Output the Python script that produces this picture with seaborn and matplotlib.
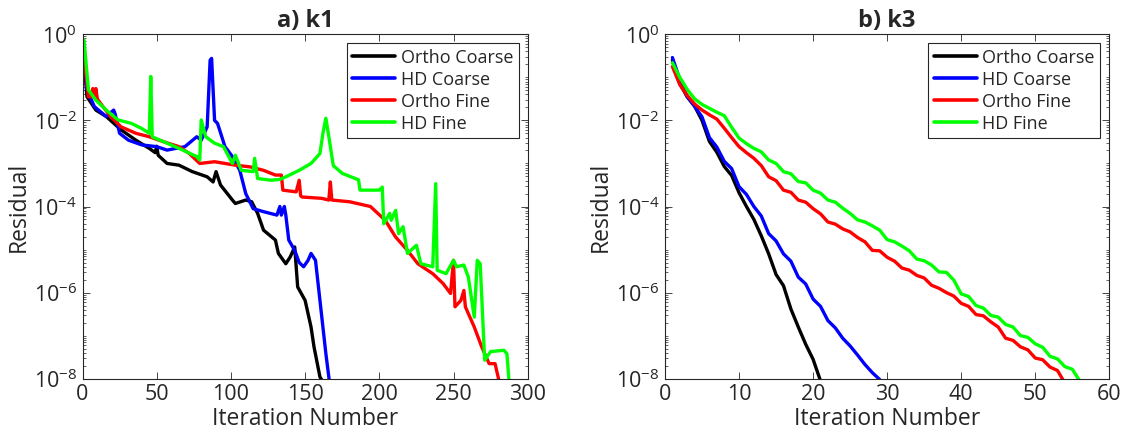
import numpy as np
import pandas as pd
import matplotlib
matplotlib.use("Agg")
import matplotlib.pyplot as plt
import seaborn as sns
from matplotlib.ticker import LogLocator, FixedLocator, LogFormatterSciNotation, NullFormatter, MultipleLocator

# ---------------- data (residuals stored as log10 values) ----------------
methods = ["Ortho Coarse", "HD Coarse", "Ortho Fine", "HD Fine"]
colors = ["#000000", "#0000ff", "#ff0000", "#00ff00"]

# panel a) k1
k1_oc_x = [0, 3, 9, 16, 26, 36, 45, 49, 50, 51, 57, 65, 74, 84, 88, 90, 93, 101, 103, 110, 114, 118,
           122, 130, 132, 137, 140, 143, 145, 150, 154, 156, 160, 162.5]
k1_oc_log = [-0.13, -1.45, -1.76, -1.91, -2.22, -2.46, -2.65, -2.75, -2.6, -2.81, -3.0, -3.04, -3.19,
             -3.31, -3.43, -3.19, -3.5, -3.85, -3.93, -3.85, -3.89, -4.16, -4.55, -4.78, -5.09, -5.33,
             -5.17, -4.94, -5.87, -6.18, -6.8, -7.26, -7.96, -8.1]

k1_hc_x = [0, 3, 8, 16, 21, 22, 25, 31, 40, 50, 57, 63, 69, 77, 80, 84, 86, 87, 89, 91, 96, 101, 106,
           110, 115, 122, 131, 133, 134, 136, 137, 139, 141, 143, 146, 149, 152, 154, 157, 160, 162,
           164, 166.5]
k1_hc_log = [-0.13, -1.29, -1.68, -1.91, -1.76, -1.85, -2.3, -2.46, -2.57, -2.61, -2.69, -2.65, -2.61,
             -2.38, -2.46, -2.15, -0.6, -0.56, -2.0, -2.07, -2.61, -2.84, -3.16, -3.7, -4.05, -4.12,
             -4.2, -4.0, -4.2, -4.0, -4.2, -4.78, -4.9, -5.02, -5.3, -5.4, -5.25, -5.09, -5.25, -6.18,
             -6.8, -7.42, -8.1]

k1_of_x = [0, 4, 6, 7, 8, 9, 10, 12, 19, 26, 36, 45, 55, 65, 72, 79, 89, 96, 103, 113, 122, 130, 134,
           135, 144, 146, 147, 148, 161, 166, 167, 168, 180, 194, 204, 211, 219, 226, 236, 243, 248,
           250, 251, 255, 257, 258, 264, 269, 274, 278, 281]
k1_of_log = [-0.21, -1.45, -1.45, -1.26, -1.45, -1.26, -1.5, -1.6, -1.91, -2.15, -2.3, -2.38, -2.5,
             -2.61, -2.77, -3.0, -2.96, -3.0, -3.04, -3.08, -3.16, -3.27, -3.27, -3.62, -3.66, -3.39,
             -3.75, -3.78, -3.81, -3.85, -3.43, -3.85, -3.89, -4.0, -4.32, -4.71, -5.02, -5.33, -5.56,
             -5.79, -6.02, -5.25, -6.33, -6.18, -5.95, -6.33, -6.8, -7.26, -7.65, -7.65, -8.1]

k1_hf_x = [1, 4, 9, 16, 24, 33, 40, 45, 46, 47, 55, 65, 77, 79, 80, 83, 89, 95, 101, 103, 107, 115,
           116, 118, 127, 133, 137, 146, 154, 160, 162, 164, 166, 169, 175, 186, 187, 200, 202, 203,
           207, 208, 211, 213, 216, 219, 225, 228, 236, 238, 239, 245, 250, 252, 257, 260, 264, 266,
           268, 271, 275, 284, 286, 287.5]
k1_hf_log = [-0.13, -1.29, -1.53, -1.76, -1.99, -2.07, -2.19, -2.3, -0.98, -2.38, -2.5, -2.65, -2.84,
             -2.92, -1.99, -2.38, -2.53, -2.61, -3.0, -2.81, -3.16, -3.19, -2.88, -3.35, -3.39, -3.37,
             -3.31, -3.16, -3.0, -2.77, -2.3, -1.95, -2.38, -3.05, -3.23, -3.38, -3.62, -3.62, -3.55,
             -4.4, -4.16, -4.32, -4.09, -4.63, -4.47, -5.09, -4.9, -5.33, -5.4, -3.47, -5.48, -5.56,
             -5.25, -5.4, -5.36, -5.64, -6.57, -5.25, -5.33, -7.57, -7.37, -7.34, -7.42, -8.1]

# panel b) k3 (one value per iteration)
k3_oc_log = [-0.6, -1.15, -1.45, -1.67, -2.0, -2.49, -2.74, -3.07, -3.28, -3.68, -4.0, -4.3, -4.68,
             -5.1, -5.58, -5.84, -6.38, -6.8, -7.2, -7.55, -8.05]
k3_hc_log = [-0.54, -1.05, -1.45, -1.67, -1.92, -2.4, -2.62, -2.95, -3.12, -3.54, -3.72, -4.0, -4.22,
             -4.63, -4.8, -5.1, -5.27, -5.64, -5.8, -6.15, -6.32, -6.65, -6.82, -7.06, -7.24, -7.45,
             -7.67, -7.86, -8.02]
k3_of_log = [-0.75, -1.17, -1.42, -1.62, -1.76, -1.87, -1.97, -2.18, -2.4, -2.61, -2.75, -2.88, -3.05,
             -3.31, -3.4, -3.62, -3.67, -3.85, -3.9, -4.05, -4.17, -4.36, -4.41, -4.52, -4.59, -4.72,
             -4.82, -5.02, -5.03, -5.18, -5.27, -5.43, -5.48, -5.6, -5.66, -5.83, -5.9, -6.0, -6.08,
             -6.25, -6.32, -6.51, -6.54, -6.68, -6.8, -7.06, -7.11, -7.26, -7.33, -7.52, -7.56, -7.73,
             -7.81, -8.1]
k3_hf_log = [-0.66, -1.0, -1.28, -1.5, -1.63, -1.72, -1.81, -1.89, -2.16, -2.41, -2.54, -2.65, -2.73,
             -2.92, -3.0, -3.19, -3.24, -3.42, -3.45, -3.62, -3.69, -3.85, -3.9, -4.04, -4.16, -4.31,
             -4.36, -4.45, -4.55, -4.77, -4.82, -4.92, -5.03, -5.22, -5.26, -5.36, -5.52, -5.53, -5.71,
             -6.03, -6.09, -6.3, -6.36, -6.53, -6.57, -6.74, -6.8, -7.0, -7.04, -7.19, -7.27, -7.48,
             -7.54, -7.72, -7.78, -8.05]

y_ticks = [1e-8, 1e-6, 1e-4, 1e-2, 1e0]


def long_frame(xs, logs):
    rows = []
    for m, x, lg in zip(methods, xs, logs):
        for xi, li in zip(x, lg):
            rows.append({"method": m, "iter": xi, "res": 10.0 ** li})
    return pd.DataFrame(rows)


df1 = long_frame([k1_oc_x, k1_hc_x, k1_of_x, k1_hf_x],
                 [k1_oc_log, k1_hc_log, k1_of_log, k1_hf_log])
k3_logs = [k3_oc_log, k3_hc_log, k3_of_log, k3_hf_log]
df2 = long_frame([list(range(1, len(l) + 1)) for l in k3_logs], k3_logs)

# ---------------- style ----------------
sns.set_style("ticks")
plt.rcParams["font.family"] = ["Open Sans", "DejaVu Sans"]
plt.rcParams.update({
    "axes.edgecolor": "#262626",
    "axes.linewidth": 0.8,
    "xtick.color": "#262626",
    "ytick.color": "#262626",
    "xtick.labelsize": 15.5,
    "ytick.labelsize": 15.5,
    "axes.labelsize": 16.5,
    "axes.labelcolor": "#262626",
    "text.color": "#262626",
})

fig = plt.figure(figsize=(11.28, 4.34), dpi=100)
ax1 = fig.add_axes([82.5 / 1128, 1 - 378.7 / 434, 445.2 / 1128, 344.4 / 434])
ax2 = fig.add_axes([665.0 / 1128, 1 - 378.7 / 434, 444.3 / 1128, 344.4 / 434])

palette = dict(zip(methods, colors))

panels = [(ax1, df1, "a) k1", 300, 50), (ax2, df2, "b) k3", 60, 10)]
for ax, df, title, xmax, xstep in panels:
    sns.lineplot(data=df, x="iter", y="res", hue="method", hue_order=methods, palette=palette,
                 estimator=None, sort=False, units="method", linewidth=2.4, ax=ax)
    ax.set_yscale("log")
    ax.set_ylim(1e-8, 1e0)
    ax.set_xlim(0, xmax)
    ax.xaxis.set_major_locator(MultipleLocator(xstep))
    ax.yaxis.set_major_locator(FixedLocator(y_ticks))
    ax.yaxis.set_major_formatter(LogFormatterSciNotation())
    ax.yaxis.set_minor_locator(LogLocator(base=10, subs=np.arange(1, 10), numticks=100))
    ax.yaxis.set_minor_formatter(NullFormatter())
    ax.tick_params(axis="both", which="major", direction="in", top=True, right=True,
                   length=5, width=0.6, pad=4)
    ax.tick_params(axis="y", which="minor", direction="in", left=True, right=True,
                   length=2.5, width=0.5)
    ax.tick_params(axis="x", which="minor", bottom=False, top=False)
    ax.set_xlabel("Iteration Number", labelpad=1)
    ax.set_ylabel("Residual", labelpad=2)
    ax.set_title(title, fontsize=17, fontweight="bold", pad=5)
    for s in ax.spines.values():
        s.set_visible(True)
    leg = ax.legend(loc="upper right", fontsize=13, frameon=True, fancybox=False,
                    edgecolor="#262626", framealpha=1, borderaxespad=0.5,
                    handlelength=2.4, handletextpad=0.3, labelspacing=0.22,
                    borderpad=0.3, title=None)
    leg.get_frame().set_linewidth(0.8)
    for line in leg.get_lines():
        line.set_linewidth(2.6)

fig.savefig("out.png", dpi=100)
